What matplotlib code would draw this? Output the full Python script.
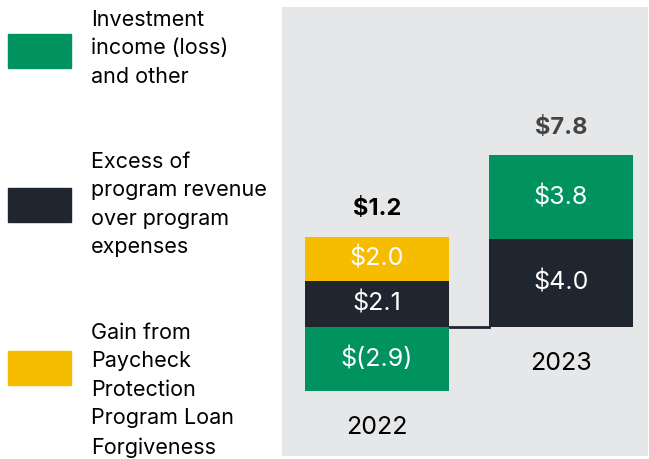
import matplotlib
matplotlib.use("Agg")
import matplotlib.pyplot as plt
from matplotlib.patches import Rectangle

plt.rcParams['font.family'] = ['Inter', 'DejaVu Sans']

years = ["2022", "2023"]
investment = [-2.9, 3.8]
excess = [2.1, 4.0]
ppp_gain = [2.0, 0.0]
totals = [1.2, 7.8]
legend_labels = ["Investment\nincome (loss)\nand other",
                 "Excess of\nprogram revenue\nover program\nexpenses",
                 "Gain from\nPaycheck\nProtection\nProgram Loan\nForgiveness"]

GREEN = "#00935f"
DARK = "#1f2630"
YELLOW = "#f5bc00"
PANEL = "#e6e7e9"

W, H = 649, 459
fig = plt.figure(figsize=(W / 100, H / 100), dpi=100)
ax = fig.add_axes([282 / W, 1 - 456 / H, 366 / W, 449 / H])
ax.set_facecolor(PANEL)
for s in ax.spines.values():
    s.set_visible(False)
ax.set_xticks([])
ax.set_yticks([])

x = [0, 1]
bw = 0.783
SEG_FS = 18

def fmt(v):
    return f"$({abs(v):.1f})" if v < 0 else f"${v:.1f}"

for i in range(len(years)):
    ax.bar(x[i], excess[i], width=bw, bottom=0, color=DARK, zorder=3)
    ax.text(x[i], excess[i] / 2, fmt(excess[i]), ha='center', va='center',
            color='white', fontsize=SEG_FS, zorder=4)
    if investment[i] < 0:
        ax.bar(x[i], investment[i], width=bw, bottom=0, color=GREEN, zorder=3)
        ax.text(x[i], investment[i] / 2, fmt(investment[i]), ha='center', va='center',
                color='white', fontsize=SEG_FS, zorder=4)
        base = excess[i]
        bottom_edge = investment[i]
    else:
        ax.bar(x[i], investment[i], width=bw, bottom=excess[i], color=GREEN, zorder=3)
        ax.text(x[i], excess[i] + investment[i] / 2, fmt(investment[i]), ha='center',
                va='center', color='white', fontsize=SEG_FS, zorder=4)
        base = excess[i] + investment[i]
        bottom_edge = 0
    if ppp_gain[i] > 0:
        ax.bar(x[i], ppp_gain[i], width=bw, bottom=base, color=YELLOW, zorder=3)
        ax.text(x[i], base + ppp_gain[i] / 2, fmt(ppp_gain[i]), ha='center',
                va='center', color='white', fontsize=SEG_FS, zorder=4)
        base += ppp_gain[i]
    tcol = 'black' if i == 0 else '#444444'
    ax.annotate(fmt(totals[i]), (x[i], base), xytext=(0, 12), textcoords='offset points',
                ha='center', va='bottom', fontsize=17, fontweight='bold', color=tcol)
    ax.annotate(years[i], (x[i], bottom_edge), xytext=(0, -18), textcoords='offset points',
                ha='center', va='top', fontsize=18, color='black')

ax.plot([x[0] + bw / 2, x[1] - bw / 2], [0, 0], color=DARK, lw=2, zorder=2)

ax.set_xlim(-0.516, 1.473)
ax.set_ylim(-(456 - 327) / 22, (327 - 7) / 22)

patch_tops = [34, 188, 351]
text_tops = [10, 152, 323]
colors = [GREEN, DARK, YELLOW]
for pt, tt, c, lab in zip(patch_tops, text_tops, colors, legend_labels):
    fig.patches.append(Rectangle((8 / W, 1 - (pt + 34) / H), 63 / W, 34 / H,
                                 transform=fig.transFigure, color=c))
    fig.text(91 / W, 1 - tt / H, lab, ha='left', va='top', fontsize=15.5,
             linespacing=1.53, color='black')

fig.savefig("out.png", dpi=100)
